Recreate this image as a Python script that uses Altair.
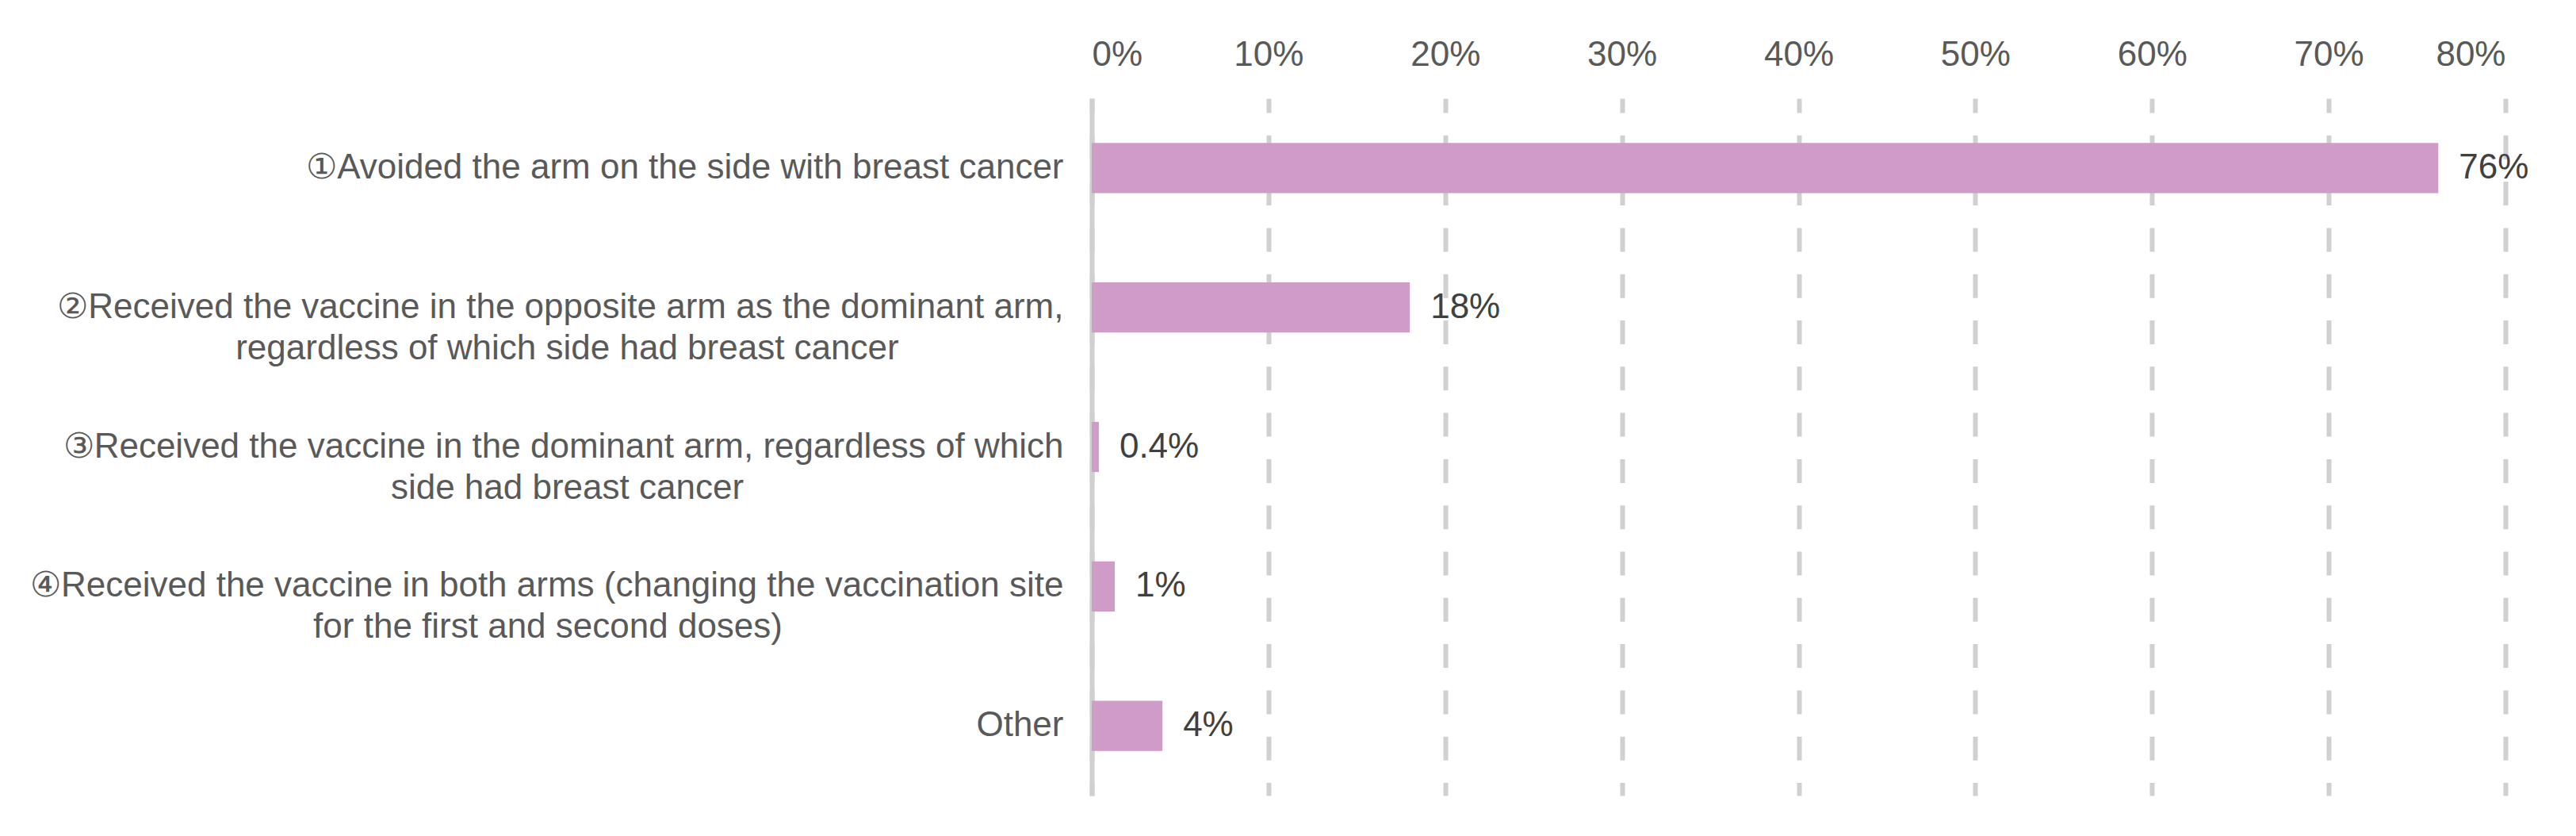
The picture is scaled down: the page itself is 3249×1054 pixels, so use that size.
import altair as alt
import pandas as pd

# Category label lines (first line, optional second line)
line1 = [
    "①Avoided the arm on the side with breast cancer",
    "②Received the vaccine in the opposite arm as the dominant arm,",
    "③Received the vaccine in the dominant arm, regardless of which",
    "④Received the vaccine in both arms (changing the vaccination site",
    "Other",
]
line2 = [
    "",
    "regardless of which side had breast cancer",
    "side had breast cancer",
    "for the first and second doses)",
    "",
]
# trailing non-breaking spaces so that the second line sits centred under the first
pad2 = [0, 17, 33, 29, 0]

values = [76.2, 18.0, 0.4, 1.3, 4.0]
value_labels = ["76%", "18%", "0.4%", "1%", "4%"]

tick_values = [0, 10, 20, 30, 40, 50, 60, 70, 80]

NBSP = "\u00a0"
ZWSP = "\u200b"
cats = []
for a, b, p in zip(line1, line2, pad2):
    if b:
        cats.append(a + "|" + b + NBSP * p + ZWSP)
    else:
        cats.append(a)

df = pd.DataFrame({"cat": cats, "value": values, "lbl": value_labels})

FONT = "Arial, Liberation Sans, sans-serif"

y_enc = alt.Y(
    "cat:N",
    sort=cats,
    scale=alt.Scale(paddingInner=0.64, paddingOuter=0.32),
    axis=alt.Axis(
        title=None,
        labelExpr="split(datum.label, '|')",
        labelFont=FONT,
        labelFontSize=44,
        labelColor="#595959",
        labelLineHeight=52,
        labelPadding=36,
        labelLimit=0,
        ticks=False,
        tickSize=0,
        domain=True,
        domainColor="#d0d0d0",
        domainWidth=6,
        grid=False,
    ),
)

x_enc = alt.X(
    "value:Q",
    scale=alt.Scale(domain=[0, 80], nice=False),
    axis=alt.Axis(
        orient="top",
        title=None,
        values=tick_values,
        labelExpr="datum.value + '%'",
        labelFont=FONT,
        labelFontSize=44,
        labelColor="#595959",
        labelPadding=33,
        ticks=False,
        tickSize=0,
        domain=False,
        grid=True,
        gridColor="#d0d0d0",
        gridWidth=6,
        gridDash=[30, 28.3],
        gridDashOffset=12,
    ),
)

bars = alt.Chart(df).mark_bar(color="#CF9BC7").encode(x=x_enc, y=y_enc)

text = alt.Chart(df).mark_text(
    align="left",
    baseline="middle",
    dx=26,
    font=FONT,
    fontSize=44,
    color="#404040",
).encode(
    x=alt.X("value:Q"),
    y=alt.Y("cat:N", sort=cats),
    text="lbl:N",
)

chart = (
    alt.layer(bars, text)
    .properties(
        width=1783,
        height=879,
        background="white",
        autosize=alt.AutoSizeParams(type="none"),
        padding={"left": 1369, "top": 116, "right": 60, "bottom": 30},
    )
    .configure_view(strokeWidth=0, stroke="transparent")
)

chart.save("out.html", embed_options={"renderer": "svg", "actions": False})
